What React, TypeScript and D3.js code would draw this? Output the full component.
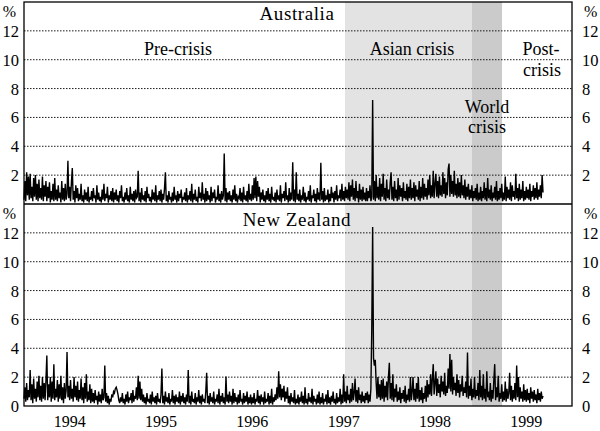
import React from "react";
import * as d3 from "d3";

// Time axis: values are semi-weekly observations starting 1994.0
const START_YEAR = 1994;
const STEP = 1 / 104;

const yearLabels = ["1994", "1995", "1996", "1997", "1998", "1999"];
const yTicks = [2, 4, 6, 8, 10, 12];

const periodNames = ["Asian crisis", "World crisis"];
const periodStarts = [1997.515, 1998.905];
const periodEnds = [1998.905, 1999.234];
const periodFills = ["#e3e3e3", "#cbcbcb"];

const australia = [
  0.3,1.6,0.2,2.2,0.6,1.9,0.3,2.1,0.4,1.2,0.2,1.8,0.5,2.0,0.3,1.4,0.2,1.7,0.4,1.1,0.3,1.9,0.2,1.3,0.5,1.6,
  0.2,1.2,0.4,1.5,0.1,0.9,0.3,1.4,0.2,1.8,0.3,1.0,0.2,1.3,0.4,0.8,0.1,1.6,0.3,1.1,0.2,1.4,0.3,0.7,3.0,0.4,
  1.2,0.2,1.5,2.5,0.3,0.9,0.1,1.3,0.4,1.1,0.2,0.7,0.3,1.4,0.2,0.6,0.1,1.0,0.3,0.8,0.2,1.2,0.1,0.5,0.3,0.9,
  0.2,1.1,0.4,0.6,0.1,1.3,0.3,0.8,0.2,0.5,0.1,1.0,0.3,1.4,0.2,0.7,0.4,1.2,0.1,0.6,0.3,0.9,0.2,1.1,0.1,0.8,
  0.3,1.0,0.2,0.6,0.1,0.9,0.4,1.3,0.2,0.5,0.1,0.8,0.3,1.1,0.2,0.6,0.1,1.2,0.3,0.7,0.2,0.9,0.1,1.0,0.4,0.5,
  2.3,0.2,0.8,0.1,1.1,0.3,0.6,0.2,0.9,0.1,1.2,0.4,0.7,0.2,0.5,0.1,1.0,0.3,0.8,0.2,1.3,0.1,0.6,0.3,0.9,0.2,
  1.0,0.1,0.7,0.3,1.1,2.2,0.2,0.6,0.1,0.9,0.3,0.5,0.1,0.8,0.2,1.2,0.3,0.6,0.1,0.9,0.2,0.7,0.4,1.0,0.1,0.5,
  0.3,0.8,0.2,1.1,0.1,0.6,0.3,0.9,0.2,1.4,0.1,0.7,0.3,1.0,0.2,0.5,0.1,1.2,0.4,0.8,0.2,1.5,0.3,0.7,0.1,1.1,
  0.2,0.9,0.3,0.6,0.1,1.2,0.2,0.8,0.4,1.0,0.1,0.5,0.3,1.3,0.2,0.7,0.1,0.9,0.3,0.6,3.5,0.2,1.1,0.1,0.8,0.3,
  0.9,0.2,0.6,0.1,1.0,0.3,1.3,0.2,0.7,0.1,0.5,0.4,1.1,0.2,0.8,0.1,1.2,0.3,0.6,0.2,0.9,0.1,1.4,0.3,0.7,0.2,
  1.3,0.3,1.8,0.4,1.9,0.2,1.6,0.5,1.2,0.1,0.8,0.3,1.0,0.2,0.6,0.1,0.9,0.3,1.1,0.2,0.7,0.1,1.2,0.3,0.5,0.2,
  0.8,0.1,1.0,0.3,0.6,0.2,1.3,0.1,0.7,0.4,0.9,0.2,1.5,0.3,0.6,0.1,1.1,0.2,0.8,0.3,2.9,0.2,1.0,0.1,2.2,0.3,
  0.7,0.2,1.0,0.1,0.6,0.3,1.2,0.2,0.8,0.1,0.5,0.3,0.9,0.2,1.3,0.1,0.6,0.4,1.0,0.2,0.7,0.1,1.1,0.3,0.8,0.2,
  2.85,0.3,0.9,0.1,1.1,0.2,0.6,0.3,1.0,0.1,0.7,0.2,1.2,0.4,0.8,0.1,0.9,0.3,1.3,0.2,0.6,0.4,1.0,0.2,1.4,0.3,
  0.9,0.2,1.2,0.4,1.0,0.3,1.5,0.2,1.3,0.5,1.7,0.3,1.1,0.2,1.6,0.4,0.9,0.1,1.4,0.3,1.0,0.2,1.2,0.3,0.8,0.2,
  1.1,0.2,0.9,0.4,1.3,0.2,0.5,7.2,0.3,1.6,0.2,2.0,0.4,1.2,0.3,1.8,0.2,1.4,0.5,2.1,0.3,1.1,0.2,1.7,0.4,1.0,
  0.3,1.5,2.2,0.3,1.2,0.2,1.6,0.4,1.0,0.2,1.8,0.3,1.3,0.5,1.1,0.2,1.5,0.4,0.9,0.3,1.4,0.2,1.2,0.4,1.7,0.3,
  1.1,0.4,1.5,0.2,1.3,0.5,1.0,0.3,1.6,0.2,1.2,0.4,1.8,0.3,1.4,0.5,1.1,0.3,1.7,0.6,2.0,0.4,1.3,0.5,2.3,0.4,
  1.4,2.1,0.5,1.6,0.4,1.9,0.6,1.3,0.5,2.2,0.7,1.8,0.4,1.5,0.6,2.4,2.8,0.5,2.0,0.7,1.6,0.5,2.3,0.6,1.4,0.4,
  1.8,0.5,1.5,0.4,2.0,0.6,1.3,0.4,1.7,0.3,1.2,0.5,1.4,0.3,1.0,0.4,1.3,0.2,0.9,0.4,1.1,0.3,1.4,0.2,0.8,0.3,
  1.2,0.2,0.9,0.4,1.5,0.3,1.1,0.2,1.8,0.4,1.0,0.3,1.3,0.2,0.8,0.4,1.2,0.3,1.6,0.2,0.9,0.3,1.1,0.4,1.4,0.2,
  0.8,0.3,1.9,0.2,1.2,0.4,1.0,0.3,1.5,0.2,1.3,0.5,0.9,0.3,2.1,0.4,1.1,0.2,1.4,0.3,1.0,0.4,1.6,0.2,0.9,0.3,
  1.2,0.4,1.0,0.3,1.4,0.2,0.9,0.5,1.3,0.3,1.1,0.4,1.5,0.3,1.0,0.5,1.3,0.4,2.0,0.8,
];

const newZealand = [
  0.5,1.3,0.3,1.6,0.4,1.1,0.6,2.5,0.4,1.5,0.2,1.9,0.5,1.2,0.3,1.7,0.6,2.1,0.4,1.4,0.3,2.0,0.5,1.6,0.4,1.8,
  3.5,0.4,1.5,0.6,2.0,0.3,1.7,0.5,2.9,0.4,1.2,0.6,1.8,0.3,1.5,0.5,2.1,0.4,1.3,0.2,1.6,0.5,1.1,3.75,0.6,1.4,
  0.4,1.8,0.5,1.2,0.3,2.0,0.6,1.4,0.4,1.7,0.3,1.1,0.5,1.9,0.4,1.3,0.2,1.6,0.5,2.2,0.3,1.0,0.4,1.5,0.2,1.2,
  0.3,0.9,0.2,1.1,0.4,0.7,0.1,1.0,0.3,0.8,0.2,1.2,0.4,0.6,2.8,0.3,0.9,0.2,0.7,0.1,0.5,0.3,0.8,0.6,1.0,0.9,
  1.2,1.3,1.1,0.8,0.4,0.2,0.6,0.3,0.9,0.2,0.5,0.1,0.8,0.3,1.0,0.2,0.6,0.4,0.9,0.2,1.1,0.3,0.7,0.5,1.3,0.4,
  2.1,0.5,1.7,0.4,1.2,0.3,0.8,0.2,0.6,0.1,0.9,0.3,0.5,0.2,0.8,0.1,1.0,0.3,0.6,0.2,0.7,0.1,0.9,0.3,0.5,0.2,
  0.8,2.6,0.2,0.7,0.1,1.0,0.3,0.6,0.2,0.9,0.1,0.5,0.3,1.1,0.2,0.7,0.1,0.8,0.3,0.6,0.2,1.0,0.1,0.7,0.3,0.9,
  0.2,0.6,0.1,0.8,0.3,2.5,0.2,0.7,0.1,1.0,0.3,0.5,0.2,0.9,0.1,0.6,0.3,1.1,0.2,0.7,0.1,0.8,0.3,0.5,0.2,1.0,
  2.3,0.2,0.7,0.1,0.9,0.3,0.6,0.2,1.0,0.1,0.5,0.3,0.8,0.2,1.2,0.1,0.7,0.3,0.9,0.2,0.6,0.1,2.05,0.3,0.8,0.2,
  1.0,0.3,0.7,0.1,1.2,0.2,0.9,0.3,0.6,0.1,0.8,0.2,1.1,0.3,0.5,0.1,0.9,0.2,0.7,0.3,1.0,0.1,0.6,0.2,0.8,0.1,
  0.6,0.2,0.9,0.1,0.5,0.3,1.1,0.2,0.7,0.1,0.8,0.3,0.6,0.1,1.0,0.2,0.5,0.3,0.9,0.1,0.7,0.2,1.2,0.1,0.6,0.3,
  0.8,0.4,1.3,0.5,2.4,0.6,1.5,0.4,1.2,0.6,1.4,0.3,1.0,0.5,1.3,0.2,0.7,0.1,0.9,0.3,0.6,0.2,1.1,0.1,0.5,0.2,
  0.8,0.1,0.6,0.3,1.0,0.2,0.7,0.1,1.3,0.2,0.5,0.1,0.9,0.3,0.6,0.2,1.2,0.1,0.7,0.3,0.5,0.1,0.8,0.2,1.0,0.1,
  0.6,0.2,0.9,0.1,0.5,0.3,0.8,0.1,1.1,0.2,0.6,0.1,0.7,0.3,1.0,0.2,0.5,0.1,0.9,0.2,0.6,0.3,1.2,0.1,0.8,0.2,
  2.2,0.3,1.0,0.2,1.4,0.4,0.8,0.2,1.2,0.3,1.6,0.4,0.9,1.9,0.3,1.1,0.2,1.3,0.4,0.8,0.2,1.0,0.3,0.7,0.2,0.9,
  0.4,1.0,0.2,0.8,0.3,1.2,5.3,12.4,3.3,2.8,3.2,1.6,0.5,2.0,0.6,1.5,0.4,1.8,0.5,1.9,0.3,1.4,0.6,1.7,0.4,2.0,
  3.0,0.5,1.6,0.4,2.2,0.3,1.2,0.6,1.5,0.3,1.0,0.4,1.3,0.2,0.9,0.5,1.1,0.3,1.4,0.2,0.8,0.4,1.2,0.3,2.0,0.4,
  1.0,2.0,0.4,1.2,0.3,1.6,0.5,2.0,0.3,1.1,0.4,1.3,0.2,0.9,0.5,1.4,0.3,1.8,0.6,1.5,0.8,2.2,0.7,1.9,2.9,0.8,
  1.6,2.4,0.7,1.9,0.9,1.5,0.6,2.1,1.0,1.7,0.8,2.3,0.7,1.4,0.9,2.6,1.2,3.6,1.0,3.2,0.8,2.0,1.1,1.6,0.7,2.2,
  0.9,1.8,0.6,1.5,1.0,2.1,0.7,1.3,0.9,1.7,0.6,3.7,0.5,1.4,0.7,1.9,0.4,1.2,0.6,2.0,0.5,1.1,0.7,1.6,0.4,2.5,
  0.6,1.4,0.4,2.2,0.5,1.2,0.3,2.4,0.6,1.0,0.4,1.6,0.3,1.1,0.5,1.8,2.9,0.4,1.3,0.6,2.1,0.3,0.9,0.5,1.5,0.3,
  1.0,0.4,1.7,0.3,1.2,0.5,0.9,2.3,0.4,1.4,0.3,1.1,0.5,1.6,0.4,2.8,0.6,2.0,0.3,1.3,0.5,1.0,0.3,1.5,0.4,1.1,
  0.3,1.2,0.4,0.9,0.2,1.3,0.5,1.0,0.3,1.1,0.4,0.8,0.2,1.2,0.4,0.9,0.3,1.0,0.5,0.7,
];

const W = 600;
const H = 431;
const LEFT = 24;
const RIGHT = 572;
const TOP = 2;
const MID = 204;
const BOTTOM = 406;
const FONT = "'Liberation Serif', 'Times New Roman', serif";

export default function App() {
  const x = d3.scaleLinear().domain([1994, 2000]).range([LEFT, RIGHT]);
  const yTop = d3.scaleLinear().domain([0, 14]).range([MID, TOP]);
  const yBot = d3.scaleLinear().domain([0, 14]).range([BOTTOM, MID]);

  const makeLine = (y: d3.ScaleLinear<number, number>) =>
    d3
      .line<number>()
      .x((_, i) => x(START_YEAR + i * STEP))
      .y((d) => y(d));

  const panels = [
    { y: yTop, data: australia, title: "Australia", titleY: 20, showZero: false },
    { y: yBot, data: newZealand, title: "New Zealand", titleY: 226, showZero: true },
  ];

  return (
    <div style={{ position: "absolute", left: 0, top: 0 }}>
      <svg width={W} height={H} style={{ display: "block", background: "#fff" }} fontFamily={FONT}>
        {/* crisis shading */}
        {periodNames.map((name, k) => (
          <rect
            key={name}
            x={x(periodStarts[k])}
            y={TOP}
            width={x(periodEnds[k]) - x(periodStarts[k])}
            height={BOTTOM - TOP}
            fill={periodFills[k]}
          />
        ))}

        {panels.map((p, pi) => (
          <g key={pi}>
            {yTicks.map((t) => (
              <line
                key={t}
                x1={LEFT}
                x2={RIGHT}
                y1={p.y(t)}
                y2={p.y(t)}
                stroke="#000"
                strokeWidth={0.9}
                strokeDasharray="1.5 1.5"
              />
            ))}
            {yTicks.map((t) => (
              <g key={"l" + t} fontSize={16.5} fill="#000">
                <text x={19} y={p.y(t)} dy="0.36em" textAnchor="end">
                  {t}
                </text>
                <text x={582} y={p.y(t)} dy="0.36em" textAnchor="start">
                  {t}
                </text>
              </g>
            ))}
            {p.showZero && (
              <g fontSize={16.5}>
                <text x={19} y={p.y(0)} dy="0.36em" textAnchor="end">0</text>
                <text x={582} y={p.y(0)} dy="0.36em" textAnchor="start">0</text>
              </g>
            )}
            <g fontSize={16}>
              <text x={16} y={p.y(14) + 9} dy="0.36em" textAnchor="end">%</text>
              <text x={584} y={p.y(14) + 9} dy="0.36em" textAnchor="start">%</text>
            </g>
            <text x={297} y={p.titleY} textAnchor="middle" fontSize={19} letterSpacing={0.6}>
              {p.title}
            </text>
          </g>
        ))}

        {/* period annotations */}
        <g fontSize={18} textAnchor="middle">
          <text x={178} y={55}>Pre-crisis</text>
          <text x={412} y={55}>{periodNames[0]}</text>
          <text x={541} y={55}>Post-</text>
          <text x={542} y={76}>crisis</text>
          <text x={487} y={113}>World</text>
          <text x={487} y={133}>crisis</text>
        </g>

        {/* series */}
        {panels.map((p, pi) => (
          <path
            key={"s" + pi}
            d={makeLine(p.y)(p.data) || ""}
            fill="none"
            stroke="#000"
            strokeWidth={1.4}
            strokeLinejoin="miter"
          />
        ))}

        {/* year labels */}
        {yearLabels.map((yl) => (
          <text key={yl} x={x(+yl + 0.5)} y={427} textAnchor="middle" fontSize={16}>
            {yl}
          </text>
        ))}

        {/* frame */}
        <rect x={LEFT} y={TOP} width={RIGHT - LEFT} height={BOTTOM - TOP} fill="none" stroke="#000" strokeWidth={1.3} />
        <line x1={LEFT} x2={RIGHT} y1={MID} y2={MID} stroke="#000" strokeWidth={1.3} />
      </svg>
    </div>
  );
}
